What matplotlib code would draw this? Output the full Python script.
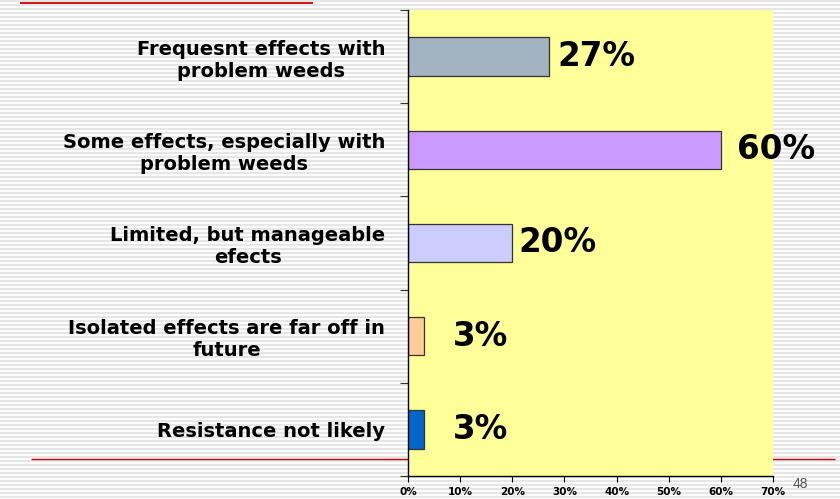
import matplotlib
matplotlib.use("Agg")
import matplotlib.pyplot as plt
import numpy as np

categories = ["Frequesnt effects with\nproblem weeds",
              "Some effects, especially with\nproblem weeds",
              "Limited, but manageable\nefects",
              "Isolated effects are far off in\nfuture",
              "Resistance not likely"]
values = [27, 60, 20, 3, 3]
bar_colors = ["#A3B3C2", "#CC99FF", "#CCCCFF", "#FFCC99", "#0066CC"]
xticks = [0, 10, 20, 30, 40, 50, 60, 70]
label_offsets = [9, 16, 6, 29, 29]  # px gap between bar end and its label

W, H = 840, 499
fig = plt.figure(figsize=(W / 100, H / 100), dpi=100)

# striped slide background
bg = fig.add_axes([0, 0, 1, 1], zorder=-2)
bg.set_xlim(0, W)
bg.set_ylim(H, 0)
bg.axis("off")
bg.hlines(np.arange(1, H, 4), 0, W, color="#E6E6E6", lw=1.6)
bg.add_patch(plt.Rectangle((20, -1), 293, 6, color="#D00000", lw=0))
bg.hlines(459, 31, 835, color="#C00000", lw=1)
bg.text(800, 484, "48", fontsize=10, color="#555555", ha="center", va="center",
        family="Liberation Sans")

ax = fig.add_axes([408 / W, 23 / H, 365 / W, 466 / H])
ax.set_facecolor("#FFFF99")
y = np.arange(len(categories))
bars = ax.barh(y, values, height=0.41, color=bar_colors, edgecolor="#333333", lw=0.9)
ax.set_ylim(len(categories) - 0.5, -0.5)
ax.set_xlim(0, 70)

for b, v, off in zip(bars, values, label_offsets):
    ax.annotate(f"{v}%", (b.get_width(), b.get_y() + b.get_height() / 2),
                xytext=(off * 0.72, 0), textcoords="offset points",
                ha="left", va="center", fontsize=23.5, fontweight="bold",
                family="DejaVu Sans")

ax.set_xticks(xticks)
ax.set_xticklabels([f"{t}%" for t in xticks], fontsize=7.5, fontweight="bold")
ax.tick_params(axis="x", length=4, width=0.8, pad=4)

ax.set_yticks(np.arange(-0.5, len(categories), 1))
ax.set_yticklabels([])
ax.set_yticks(y, minor=True)
ax.set_yticklabels(categories, minor=True, fontsize=14, fontweight="bold",
                   family="DejaVu Sans", multialignment="center")
ax.tick_params(axis="y", which="minor", length=0, pad=16.5)
ax.tick_params(axis="y", which="major", length=6, width=0.8, colors="#333333")

for s in ["top", "right"]:
    ax.spines[s].set_visible(False)
for s in ["left", "bottom"]:
    ax.spines[s].set_linewidth(1)

fig.savefig("out.png", dpi=100)
